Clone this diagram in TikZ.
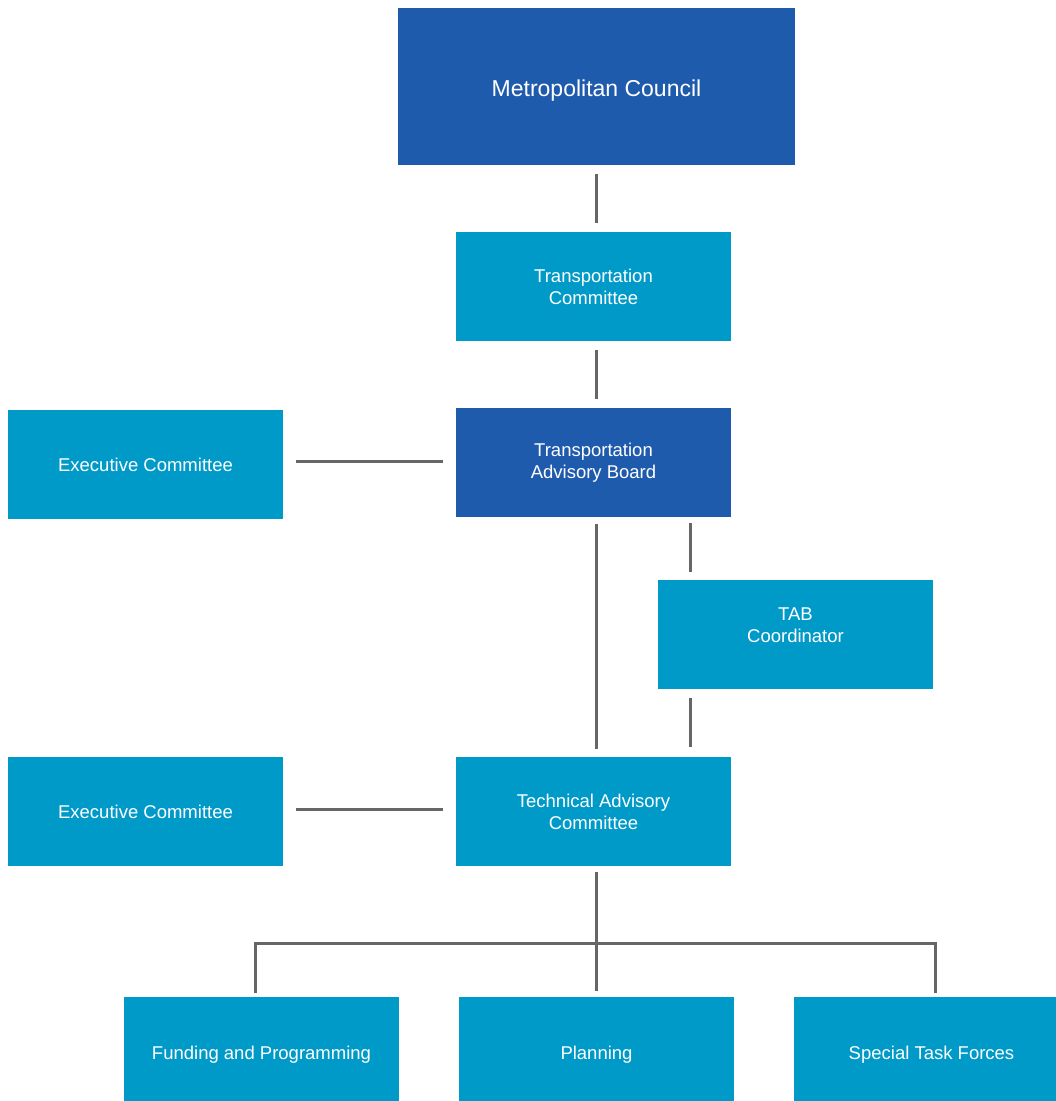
\documentclass[tikz,border=0pt]{standalone}
\usepackage{fontspec}
\setmainfont{Liberation Sans}
\definecolor{darkblue}{RGB}{31,91,173}
\definecolor{lightblue}{RGB}{0,154,201}
\definecolor{linegray}{RGB}{102,102,102}
\begin{document}
\begin{tikzpicture}[x=1pt,y=-1pt]
\tikzstyle{every node}+=[inner sep=0pt]
\tikzstyle{box}=[rectangle, draw=none, text=white, align=center, minimum width=275pt, minimum height=109pt, font=\fontsize{18.5}{22}\selectfont]
\tikzstyle{darkbox}=[box, fill=darkblue]
\tikzstyle{lightbox}=[box, fill=lightblue]
\tikzstyle{lowbox}=[lightbox, minimum height=104pt, text height=21.6pt, text depth=0pt]
\tikzstyle{link}=[linegray, line width=3pt]
\useasboundingbox (0,0) rectangle (1056,1101);
\clip (0,0) rectangle (1056,1101);
\node [darkbox, minimum width=397pt, minimum height=157pt, font=\fontsize{23}{27}\selectfont, text height=20pt, text depth=0pt] (council) at (596.5,86.5) {Metropolitan Council};
\node [lightbox] (transcom) at (593.5,286.5) {Transportation\\Committee};
\node [darkbox] (tab) at (593.5,462.5) {Transportation\\Advisory Board};
\node [lightbox] (exectab) at (145.5,464.5) {Executive Committee};
\node [lightbox] (tabcoord) at (795.5,634.5) {TAB\\Coordinator\\[-4pt]\mbox{}};
\node [lightbox] (tac) at (593.5,811.5) {Technical Advisory\\Committee};
\node [lightbox] (exectac) at (145.5,811.5) {Executive Committee};
\node [lowbox] (funding) at (261.5,1049) {Funding and Programming};
\node [lowbox] (planning) at (596.5,1049) {Planning};
\node [lowbox] (special) at (931.5,1049) {Special Task Forces};
\coordinate (mid) at (596,0);
\coordinate (side) at (690,0);
\coordinate (bus) at (596,943);
\coordinate (busl) at (255,943);
\coordinate (busr) at (935,943);
\draw [link, shorten <=9pt, shorten >=9pt] (council.south -| mid) -- (transcom.north -| mid);
\draw [link, shorten <=9pt, shorten >=9pt] (transcom.south -| mid) -- (tab.north -| mid);
\draw [link, shorten <=13pt, shorten >=13pt] (exectab.east |- 0,461) -- (tab.west |- 0,461);
\draw [link, shorten <=7pt, shorten >=8pt] (tab.south -| mid) -- (tac.north -| mid);
\draw [link, shorten <=6pt, shorten >=8pt] (tab.south -| side) -- (tabcoord.north -| side);
\draw [link, shorten <=9pt, shorten >=10pt] (tabcoord.south -| side) -- (tac.north -| side);
\draw [link, shorten <=13pt, shorten >=13pt] (exectac.east |- 0,809) -- (tac.west |- 0,809);
\draw [link, shorten <=6pt] (tac.south -| bus) -- (bus);
\draw [link, shorten <=0pt, shorten >=6pt] (bus) -- (planning.north -| bus);
\draw [link, shorten <=4pt, shorten >=4pt] (funding.north -| busl) -- (busl) -- (busr) -- (special.north -| busr);
\end{tikzpicture}
\end{document}
